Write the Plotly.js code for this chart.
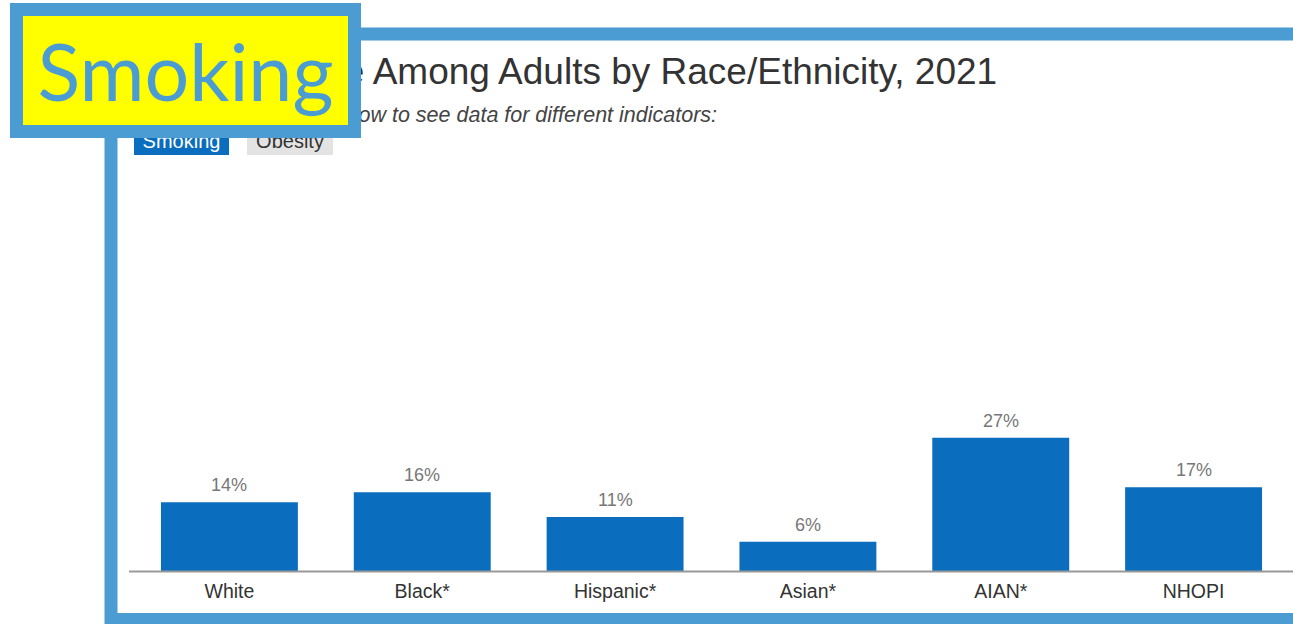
<!DOCTYPE html>
<html>
<head>
<meta charset="utf-8">
<script src="https://cdn.plot.ly/plotly-3.0.1.min.js"></script>
<style>
html,body{margin:0;padding:0;background:#fff;}
#chart{width:1293px;height:624px;}
</style>
</head>
<body>
<div id="chart"></div>
<script>
// ---- data ----
const categories = ["White", "Black*", "Hispanic*", "Asian*", "AIAN*", "NHOPI"];
const smokingValues = [14, 16, 11, 6, 27, 17];
const valueLabels = ["14%", "16%", "11%", "6%", "27%", "17%"];
const chartTitle = "Smoking Rate Among Adults by Race/Ethnicity, 2021";
const chartSubtitle = "Click on the buttons below to see data for different indicators:";
const buttonLabels = ["Smoking", "Obesity"];
const calloutLabel = "Smoking";

// ---- helpers: pixel -> paper (margins are zero) ----
const W = 1293, H = 624;
const px = x => x / W;
const py = y => 1 - y / H;

const FONT = "Liberation Sans, Arial, Helvetica, sans-serif";
const BLUE_FRAME = "#4b9cd3";
const BAR_BLUE = "#0b6dbd";

const trace = {
  type: "bar",
  x: categories,
  y: smokingValues,
  marker: {color: BAR_BLUE},
  hoverinfo: "none"
};

const annotations = [];
categories.forEach((c, i) => {
  annotations.push({
    xref: "x", yref: "y", x: c, y: smokingValues[i],
    text: valueLabels[i], showarrow: false,
    xanchor: "center", yanchor: "bottom", yshift: 6, borderpad: 0,
    font: {family: FONT, size: 18, color: "#777"}
  });
});
// title & subtitle
annotations.push({
  xref: "paper", yref: "paper", x: px(131), y: py(71), xanchor: "left", yanchor: "middle",
  text: chartTitle, showarrow: false, borderpad: 0,
  font: {family: FONT, size: 37, color: "#333"}
});
annotations.push({
  xref: "paper", yref: "paper", x: px(134), y: py(115), xanchor: "left", yanchor: "middle",
  text: "<i>" + chartSubtitle + "</i>", showarrow: false, borderpad: 0,
  font: {family: FONT, size: 21.5, color: "#444"}
});
// buttons
annotations.push({
  xref: "paper", yref: "paper", x: px(134), y: py(155), xanchor: "left", yanchor: "bottom",
  text: buttonLabels[0], showarrow: false, width: 95, height: 28, borderpad: 0, borderwidth: 0,
  bgcolor: BAR_BLUE, align: "center", valign: "middle",
  font: {family: FONT, size: 20, color: "#fff"}
});
annotations.push({
  xref: "paper", yref: "paper", x: px(247), y: py(155), xanchor: "left", yanchor: "bottom",
  text: buttonLabels[1], showarrow: false, width: 86, height: 28, borderpad: 0, borderwidth: 0,
  bgcolor: "#e3e3e3", align: "center", valign: "middle",
  font: {family: FONT, size: 20, color: "#333"}
});
// yellow callout (drawn last so it covers the title start)
annotations.push({
  xref: "paper", yref: "paper", x: px(10), y: py(3), xanchor: "left", yanchor: "top",
  text: calloutLabel, showarrow: false, width: 325, height: 109, borderpad: 0, borderwidth: 13,
  bordercolor: BLUE_FRAME, bgcolor: "#ffff00", align: "center", valign: "middle",
  font: {family: "Lato, 'Open Sans', sans-serif", size: 79, color: BLUE_FRAME}
});

const shapes = [
  {type: "rect", xref: "paper", yref: "paper", x0: px(111), x1: px(1320), y0: py(619.5), y1: py(34),
   line: {color: BLUE_FRAME, width: 13}, fillcolor: "rgba(0,0,0,0)", layer: "below"},
  {type: "line", xref: "paper", yref: "paper", x0: px(129), x1: px(1300), y0: py(571.5), y1: py(571.5),
   line: {color: "#999", width: 2}, layer: "above"}
];

const layout = {
  width: W, height: H,
  margin: {l: 0, r: 0, t: 0, b: 0, pad: 0},
  paper_bgcolor: "#fff", plot_bgcolor: "rgba(0,0,0,0)",
  showlegend: false,
  bargap: 0.29,
  xaxis: {
    domain: [px(133), px(1290)],
    type: "category",
    showgrid: false, zeroline: false, showline: false,
    ticks: "outside", ticklen: 2, tickcolor: "rgba(0,0,0,0)",
    tickfont: {family: FONT, size: 19.5, color: "#333"},
    fixedrange: true
  },
  yaxis: {
    domain: [py(571.5), py(180)],
    range: [0, 391.5 / 4.95],
    showgrid: false, zeroline: false, showline: false, showticklabels: false, ticks: "",
    fixedrange: true
  },
  annotations: annotations,
  shapes: shapes
};

Plotly.newPlot("chart", [trace], layout, {displayModeBar: false, staticPlot: true});
</script>
</body>
</html>
